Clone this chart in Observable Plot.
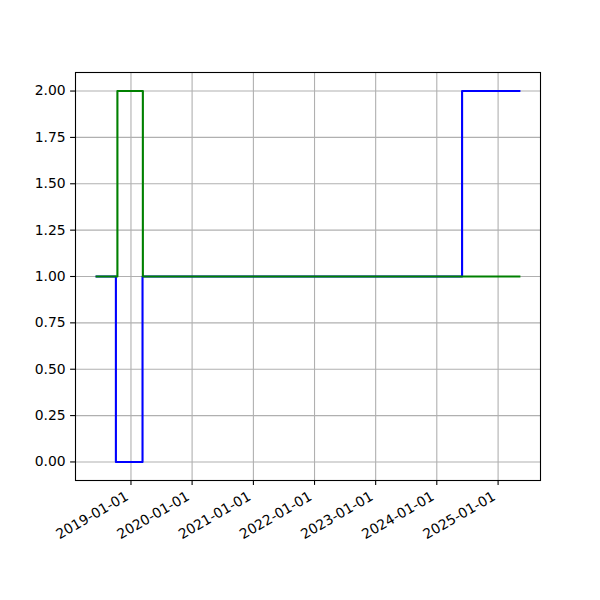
<!DOCTYPE html>
<html><head><meta charset="utf-8">
<script src="https://cdn.jsdelivr.net/npm/d3@7"></script>
<script src="https://cdn.jsdelivr.net/npm/@observablehq/plot@0.6"></script>
<style>body{margin:0;background:#fff} svg{font-family:"DejaVu Sans"}</style>
</head><body><div id="chart"></div><script>
const blueDates = ["2018-06-10","2018-10-03","2019-03-11","2024-05-31","2025-05-08"];
const blueValues = [1, 0, 1, 2, 2];
const greenDates = ["2018-06-10","2018-10-12","2019-03-13","2025-05-08"];
const greenValues = [1, 2, 1, 1];
const xTickLabels = ["2019-01-01","2020-01-01","2021-01-01","2022-01-01","2023-01-01","2024-01-01","2025-01-01"];
const yTicks = [0, 0.25, 0.5, 0.75, 1, 1.25, 1.5, 1.75, 2];

const parse = d3.utcParse("%Y-%m-%d");
const blue = blueDates.map((d, i) => ({date: parse(d), value: blueValues[i]}));
const green = greenDates.map((d, i) => ({date: parse(d), value: greenValues[i]}));
const xTicks = xTickLabels.map(parse);

const allDates = [...blue, ...green].map(d => +d.date);
const x0 = d3.min(allDates), x1 = d3.max(allDates);
const pad = (x1 - x0) * 0.05;
const xDomain = [new Date(x0 - pad), new Date(x1 + pad)];

const chart = Plot.plot({
  width: 600, height: 600,
  marginLeft: 75, marginRight: 60, marginTop: 72, marginBottom: 120,
  style: {fontFamily: "DejaVu Sans", fontSize: "13.9px", background: "#fff"},
  x: {type: "utc", domain: xDomain},
  y: {domain: [-0.1, 2.1]},
  marks: [
    Plot.gridX(xTicks, {stroke: "#b0b0b0", strokeOpacity: 1, strokeWidth: 1.1}),
    Plot.gridY(yTicks, {stroke: "#b0b0b0", strokeOpacity: 1, strokeWidth: 1.1}),
    Plot.line(blue, {x: "date", y: "value", curve: "step-after", stroke: "blue", strokeWidth: 2.1, strokeLinecap: "square"}),
    Plot.line(green, {x: "date", y: "value", curve: "step-after", stroke: "green", strokeWidth: 2.1, strokeLinecap: "square"}),
    Plot.frame({stroke: "black", strokeWidth: 1.1}),
    Plot.axisY(yTicks, {tickFormat: d => d.toFixed(2), tickSize: 4.9, tickPadding: 4.9, fontSize: 13.9, label: null, strokeWidth: 1.1}),
    Plot.axisX(xTicks, {text: null, tickSize: 4.9, label: null, strokeWidth: 1.1}),
    Plot.text(xTicks, {x: d => d, frameAnchor: "bottom", text: d3.utcFormat("%Y-%m-%d"), rotate: -30, textAnchor: "end", lineAnchor: "bottom", dx: -1.6, dy: 18.6, fontSize: 13.9, fill: "black"})
  ]
});
document.getElementById("chart").append(chart);
</script></body></html>
